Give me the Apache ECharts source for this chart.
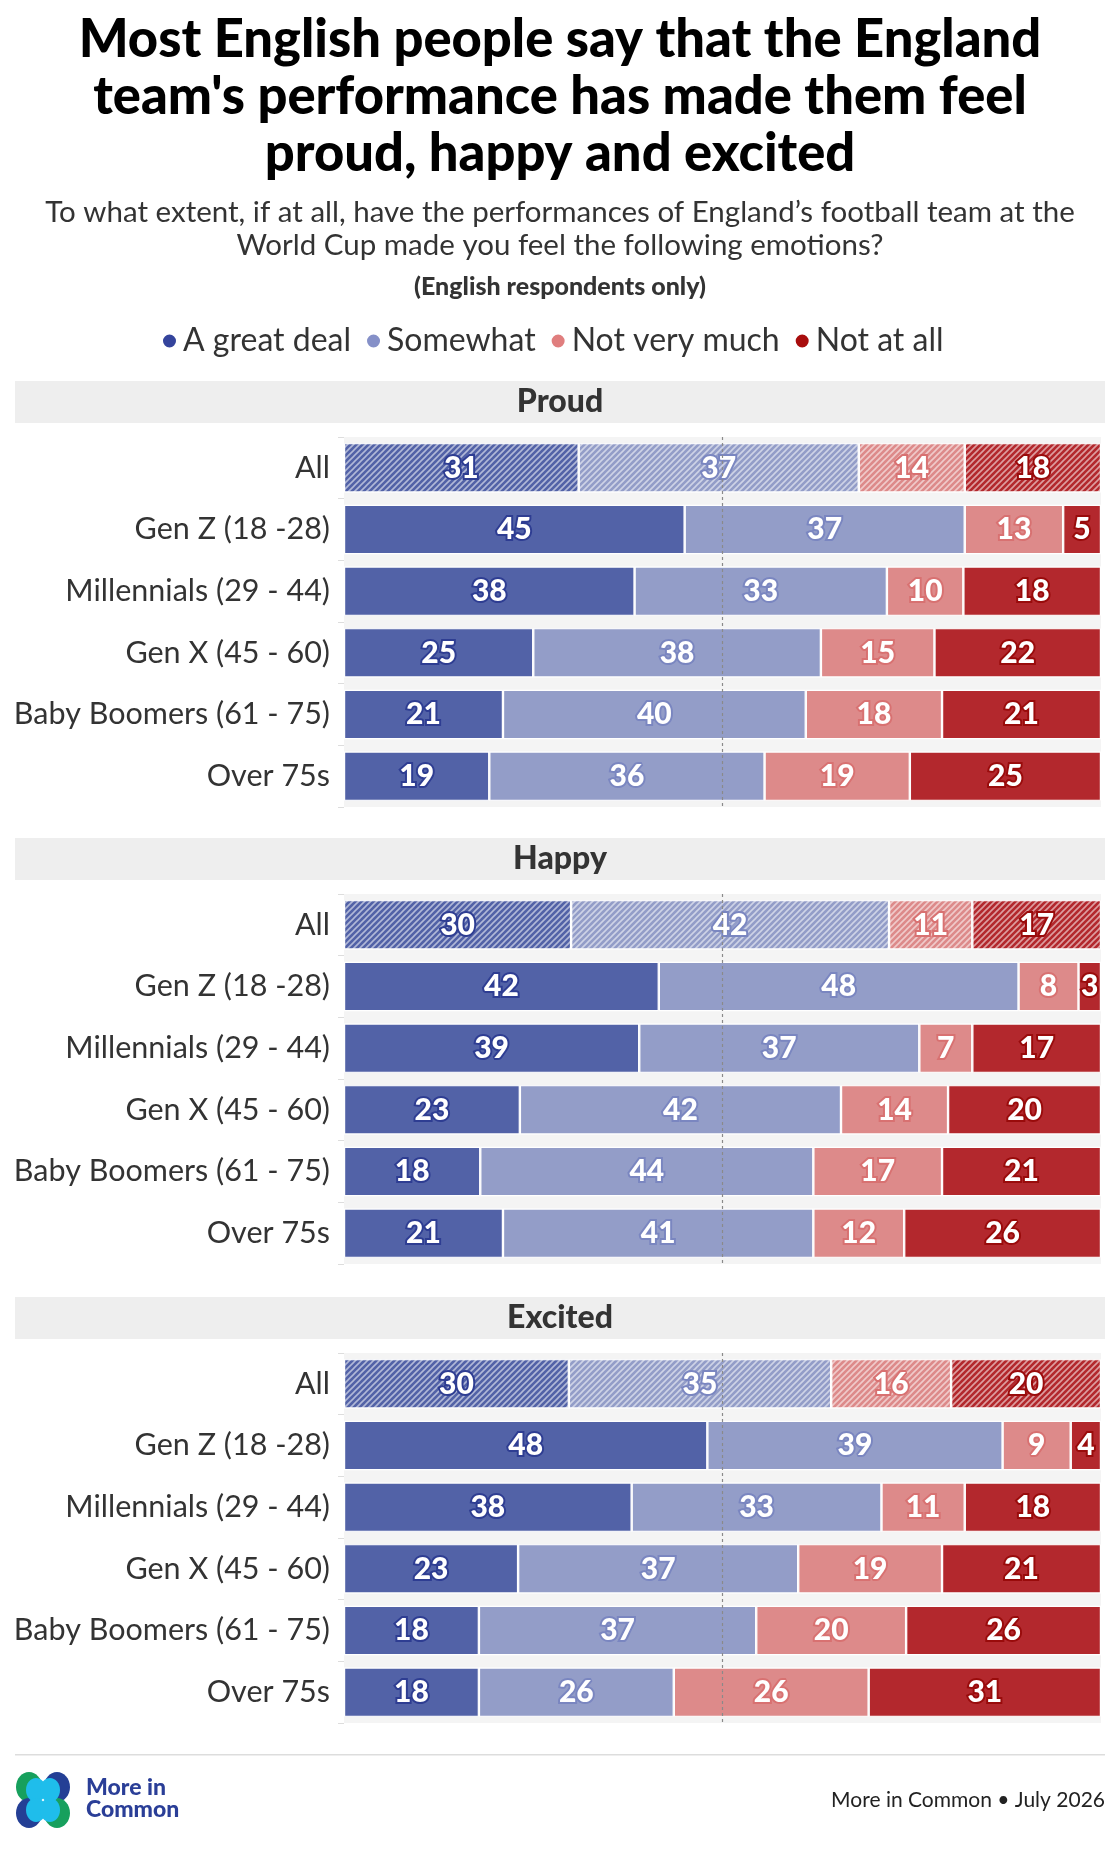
<!DOCTYPE html>
<html>
<head>
<meta charset="utf-8">
<script src="https://cdn.jsdelivr.net/npm/echarts@6/dist/echarts.min.js"></script>
<style>
html,body{margin:0;padding:0;background:#fff;}
#chart{width:1120px;height:1852px;}
</style>
</head>
<body>
<div id="chart"></div>
<script>
// ---- data ----
var categories = ['All', 'Gen Z (18 -28)', 'Millennials (29 - 44)', 'Gen X (45 - 60)', 'Baby Boomers (61 - 75)', 'Over 75s'];
var responses = ['A great deal', 'Somewhat', 'Not very much', 'Not at all'];
var sections = ['Proud', 'Happy', 'Excited'];
// rows: [A great deal, Somewhat, Not very much, Not at all]
var proud = [
  [31, 37, 14, 18],
  [45, 37, 13, 5],
  [38, 33, 10, 18],
  [25, 38, 15, 22],
  [21, 40, 18, 21],
  [19, 36, 19, 25]
];
var happy = [
  [30, 42, 11, 17],
  [42, 48, 8, 3],
  [39, 37, 7, 17],
  [23, 42, 14, 20],
  [18, 44, 17, 21],
  [21, 41, 12, 26]
];
var excited = [
  [30, 35, 16, 20],
  [48, 39, 9, 4],
  [38, 33, 11, 18],
  [23, 37, 19, 21],
  [18, 37, 20, 26],
  [18, 26, 26, 31]
];
var sectionData = [proud, happy, excited];

// ---- styles ----
var barColors = ['#5262a7', '#939dc8', '#dd8a8a', '#b3282d'];
var labelBorder = ['#2e3d92', '#7a86c0', '#d87171', '#990b0b'];
var legendColors = ['#34449c', '#8590c8', '#e07e7e', '#a80d0d'];
var FONT = 'Lato, "Open Sans", sans-serif';

function hatch(color) {
  var c = document.createElement('canvas');
  var s = 6;
  c.width = s; c.height = s;
  var g = c.getContext('2d');
  g.fillStyle = color;
  g.fillRect(0, 0, s, s);
  g.strokeStyle = 'rgba(255,255,255,0.55)';
  g.lineWidth = 1.6;
  g.beginPath();
  g.moveTo(0, s); g.lineTo(s, 0);
  g.moveTo(-s, s); g.lineTo(s, -s);
  g.moveTo(0, 2 * s); g.lineTo(2 * s, 0);
  g.stroke();
  return {image: c, repeat: 'repeat'};
}
var hatchPatterns = barColors.map(hatch);

var bandTops = [381, 838, 1297];
var gridOffset = 56;
var gridHeight = 370;

var grids = [], xAxes = [], yAxes = [], series = [], graphics = [];

// titles
graphics.push({
  type: 'text', x: 560, y: 12,
  style: {
    text: 'Most English people say that the England\nteam\'s performance has made them feel\nproud, happy and excited',
    align: 'center', verticalAlign: 'top',
    fontSize: 52.5, lineHeight: 57, fontWeight: 900, fontFamily: FONT, fill: '#000000'
  }
});
graphics.push({
  type: 'text', x: 560, y: 196,
  style: {
    text: 'To what extent, if at all, have the performances of England\u2019s football team at the\nWorld Cup made you feel the following emotions?',
    align: 'center', verticalAlign: 'top',
    fontSize: 29.5, lineHeight: 33, fontFamily: FONT, fill: '#333333'
  }
});
graphics.push({
  type: 'text', x: 560, y: 287,
  style: {
    text: '(English respondents only)', align: 'center', verticalAlign: 'middle',
    fontSize: 25, fontWeight: 900, fontFamily: FONT, fill: '#333333'
  }
});

sections.forEach(function (name, s) {
  var top = bandTops[s] + gridOffset;
  grids.push({
    left: 344, right: 19, top: top, height: gridHeight,
    show: true, backgroundColor: '#f4f4f4', borderWidth: 0, containLabel: false
  });
  xAxes.push({
    type: 'value', gridIndex: s, min: 0, max: 100, interval: 50, show: false
  });
  yAxes.push({
    type: 'category', gridIndex: s, data: categories, inverse: true,
    axisLine: {show: false},
    axisTick: {show: true, length: 6, lineStyle: {color: '#dddddd'}},
    axisLabel: {color: '#333333', fontSize: 30.5, fontFamily: FONT, margin: 14}
  });
  graphics.push({
    type: 'rect', left: 15, top: bandTops[s],
    shape: {width: 1090, height: 42}, style: {fill: '#eeeeee'}, z: 0
  });
  graphics.push({
    type: 'text', x: 560, y: bandTops[s] + 21,
    style: {text: name, align: 'center', verticalAlign: 'middle',
      fontSize: 32, fontWeight: 900, fontFamily: FONT, fill: '#333333'}
  });
  var rows = sectionData[s];
  responses.forEach(function (resp, k) {
    var data = rows.map(function (row, r) {
      var total = row.reduce(function (a, b) { return a + b; }, 0);
      var item = {value: row[k] / total * 100, raw: row[k]};
      if (r === 0) {
        item.itemStyle = {color: hatchPatterns[k]};
      }
      return item;
    });
    var ser = {
      name: resp, type: 'bar', stack: 'st' + s,
      xAxisIndex: s, yAxisIndex: s,
      barCategoryGap: '20%',
      data: data,
      itemStyle: {color: barColors[k], borderColor: '#ffffff', borderWidth: 1.2},
      label: {
        show: true, position: 'inside',
        formatter: function (p) { return p.data.raw; },
        color: '#ffffff', fontSize: 30, fontWeight: 900, fontFamily: FONT,
        textBorderColor: labelBorder[k], textBorderWidth: 4
      },
      emphasis: {disabled: true}
    };
    if (k === 3) {
      ser.markLine = {
        silent: true, symbol: 'none', z: 10,
        label: {show: false},
        lineStyle: {type: [3, 3], color: '#8a8a8a', width: 1.2},
        data: [{xAxis: 50}]
      };
    }
    series.push(ser);
  });
});

// footer
graphics.push({type: 'rect', left: 15, top: 1754, shape: {width: 1090, height: 1.5}, style: {fill: '#dddddd'}});
// logo
var logoParts = [
  {cx: 29, cy: 1787, c: '#17a05d'}, {cx: 57, cy: 1787, c: '#243f95'},
  {cx: 29, cy: 1813, c: '#243f95'}, {cx: 57, cy: 1813, c: '#17a05d'}
];
logoParts.forEach(function (p) {
  graphics.push({type: 'ellipse', shape: {cx: p.cx, cy: p.cy, rx: 13, ry: 15}, style: {fill: p.c}});
});
[[36, 1790], [50, 1790], [36, 1810], [50, 1810]].forEach(function (p) {
  graphics.push({type: 'ellipse', shape: {cx: p[0], cy: p[1], rx: 10, ry: 12}, style: {fill: '#1fbdeb'}});
});
graphics.push({
  type: 'text', left: 86, top: 1776,
  style: {text: 'More in\nCommon', fontSize: 23, lineHeight: 22, fontWeight: 900, fontFamily: FONT, fill: '#2a3e97'}
});
graphics.push({
  type: 'text', right: 15, top: 1790,
  style: {text: 'More in Common \u2022 July 2026', fontSize: 21, fontFamily: FONT, fill: '#222222'}
});

var option = {
  backgroundColor: '#ffffff',
  animation: false,
  legend: {
    top: 320, left: 156,
    icon: 'path://M0,10a10,10 0 1,0 20,0a10,10 0 1,0 -20,0',
    itemWidth: 15, itemHeight: 18, itemGap: 14,
    selectedMode: false,
    textStyle: {fontSize: 32, fontFamily: FONT, color: '#333333', padding: [0, 0, 0, 1]},
    data: responses.map(function (r, i) { return {name: r, itemStyle: {color: legendColors[i]}}; })
  },
  grid: grids,
  xAxis: xAxes,
  yAxis: yAxes,
  series: series,
  graphic: graphics
};

var chart = echarts.init(document.getElementById('chart'), null, {renderer: 'canvas'});
chart.setOption(option);
</script>
</body>
</html>
